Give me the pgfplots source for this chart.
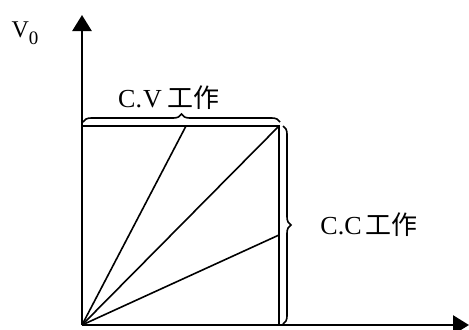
\documentclass[border=0pt]{standalone}
\usepackage{pgfplots}
\pgfplotsset{compat=1.18}
\usepackage{fontspec}
\setmainfont{Liberation Serif}
\newfontfamily\cjk{Noto Sans CJK SC}
\usetikzlibrary{arrows.meta,decorations.pathreplacing}
\begin{document}
\begin{tikzpicture}
\begin{axis}[
    scale only axis,
    width=193.5pt,
    height=155pt,
    xmin=0, xmax=387,
    ymin=0, ymax=310,
    axis lines=left,
    axis line style={line width=1.3pt, -{Triangle[length=8pt,width=9.5pt]}},
    xtick=\empty, ytick=\empty,
    clip=false,
]
% box of the working region
\addplot[black, line width=0.8pt] coordinates {(0,199) (197,199) (197,0)};
% load lines
\addplot[black, line width=0.8pt] coordinates {(0,0) (104,199)};
\addplot[black, line width=0.8pt] coordinates {(0,0) (197,199)};
\addplot[black, line width=0.8pt] coordinates {(0,0) (197,90)};

% braces
\draw[line width=0.8pt, decorate, decoration={brace, amplitude=4pt}]
    (axis cs:1,203) -- (axis cs:198,203);
\draw[line width=0.8pt, decorate, decoration={brace, amplitude=4pt}]
    (axis cs:201,199) -- (axis cs:201,1);

\node[font=\fontsize{13}{15}\selectfont, inner sep=0pt] at (axis cs:87,227) {C.\kern0.5pt V\hspace{3pt}{\cjk 工作}};
\node[font=\fontsize{13}{15}\selectfont, inner sep=0pt] at (axis cs:287,100) {C.C\hspace{2pt}{\cjk 工作}};
\node[font=\fontsize{12}{14}\selectfont, inner sep=0pt] at (axis cs:-57,292) {V\raisebox{-3.5pt}{\fontsize{9.5}{10}\selectfont 0}};

\coordinate (bl) at (axis cs:-82,-4);
\coordinate (tr) at (axis cs:387,325);
\end{axis}
\pgfresetboundingbox
\path (bl) rectangle (tr);
\end{tikzpicture}
\end{document}
